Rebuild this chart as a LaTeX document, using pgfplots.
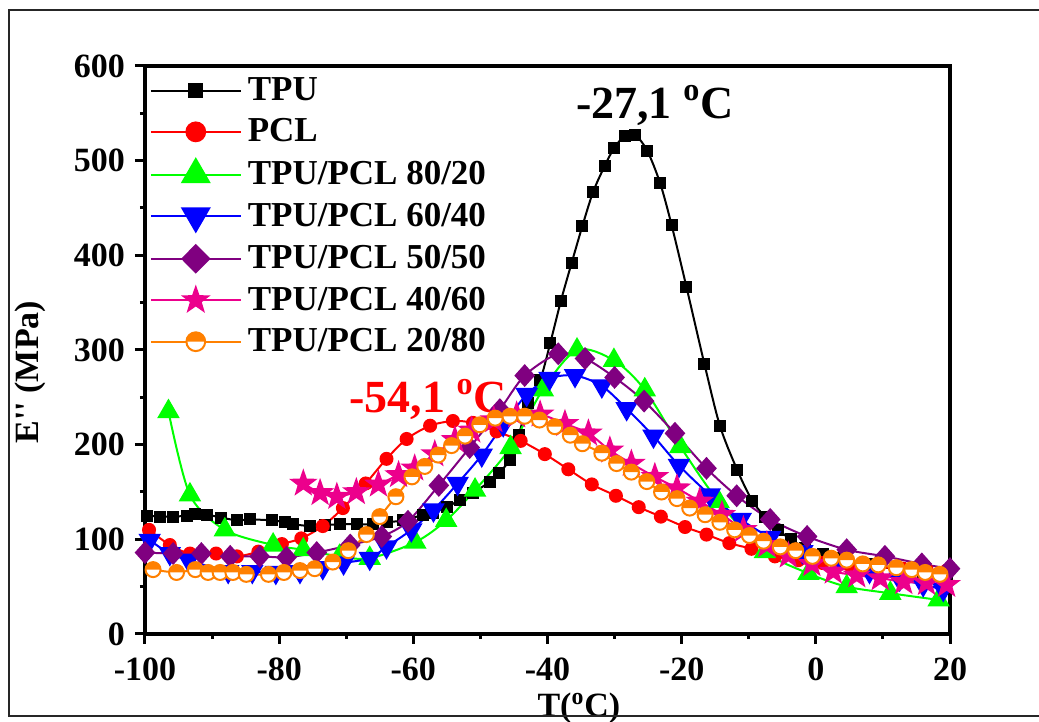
\documentclass[border=0pt]{standalone}
\usepackage{fontspec}
\setmainfont{Liberation Serif}
\newfontfamily\rawfont{Liberation Serif}[Ligatures=TeXOff]
\usepackage{pgfplots}
\pgfplotsset{compat=1.18}
\definecolor{myorange}{RGB}{255,128,0}
\definecolor{mygreen}{RGB}{0,255,0}
\definecolor{mypurple}{RGB}{128,0,128}
\pgfdeclareplotmark{halfo}{%
 \pgfpathcircle{\pgfpointorigin}{\pgfplotmarksize}%
 \pgfsetfillcolor{white}%
 \pgfusepathqfill
 \pgfpathmoveto{\pgfqpoint{\pgfplotmarksize}{0pt}}%
 \pgfpatharc{0}{180}{\pgfplotmarksize}%
 \pgfpathclose
 \pgfsetfillcolor{myorange}%
 \pgfusepathqfill
 \pgfpathcircle{\pgfpointorigin}{\pgfplotmarksize}%
 \pgfusepathqstroke
}
\pgfdeclareplotmark{fstar}{%
 \pgfpathmoveto{\pgfpointpolar{90}{\pgfplotmarksize}}%
 \pgfpathlineto{\pgfpointpolar{126}{0.4\pgfplotmarksize}}%
 \pgfpathlineto{\pgfpointpolar{162}{\pgfplotmarksize}}%
 \pgfpathlineto{\pgfpointpolar{198}{0.4\pgfplotmarksize}}%
 \pgfpathlineto{\pgfpointpolar{234}{\pgfplotmarksize}}%
 \pgfpathlineto{\pgfpointpolar{270}{0.4\pgfplotmarksize}}%
 \pgfpathlineto{\pgfpointpolar{306}{\pgfplotmarksize}}%
 \pgfpathlineto{\pgfpointpolar{342}{0.4\pgfplotmarksize}}%
 \pgfpathlineto{\pgfpointpolar{18}{\pgfplotmarksize}}%
 \pgfpathlineto{\pgfpointpolar{54}{0.4\pgfplotmarksize}}%
 \pgfpathclose
 \pgfusepathqfillstroke
}
\newcommand{\tf}{\fontsize{17}{20}\selectfont\bfseries}
\newcommand{\lf}{\fontsize{17.5}{20}\selectfont\bfseries}
\newcommand{\af}{\fontsize{23}{26}\selectfont\bfseries}
\begin{document}
\begin{tikzpicture}
\path[use as bounding box] (-72.5pt,-44pt) rectangle (447pt,317pt);
\begin{axis}[name=ax, at={(0,0)}, anchor=south west, scale only axis,
  width=402.5pt, height=284pt,
  xmin=-100, xmax=20, ymin=0, ymax=600,
  axis line style={line width=2pt},
  tick pos=left, tick align=outside,
  major tick length=5pt, minor tick length=2.5pt,
  tick style={line width=1.5pt, black},
  minor x tick num=1, minor y tick num=1,
  xtick={-100,-80,-60,-40,-20,0,20},
  xticklabels={-100,-80,-60,-40,-20,0,20},
  ytick={0,100,200,300,400,500,600},
  yticklabels={0,100,200,300,400,500,600},
  ticklabel style={font=\tf},
  xticklabel style={yshift=-3.5pt},
  yticklabel style={xshift=-1.5pt},
  xlabel={T(\textsuperscript{o}C)},
  ylabel={E{\rawfont\bfseries''} (MPa)},
  xlabel style={at={(axis description cs:0.539,-0.146)}, anchor=base, font=\tf},
  ylabel style={at={(axis description cs:-0.143,0.461)}, anchor=center, font=\tf},
  legend style={at={(rel axis cs:-0.002,0.989)}, anchor=north west, draw=none, fill=none,
    font=\lf, row sep=6.6pt, column sep=2.5pt, nodes={inner sep=0.5pt}},
  legend cell align=left,
  legend image code/.code={\draw[mark repeat=2,mark phase=2,#1] plot coordinates {(0pt,0pt) (22.5pt,0pt) (45pt,0pt)};},
  every axis plot/.append style={line width=1pt, smooth},
]
\addlegendimage{black, mark=square*, mark size=3.2pt}
\addlegendentry{TPU}
\addlegendimage{red, mark=*, mark size=4.7pt}
\addlegendentry{PCL}
\addlegendimage{mygreen, mark=triangle*, mark size=7.7pt}
\addlegendentry{TPU/PCL 80/20}
\addlegendimage{blue, mark=triangle*, mark size=7.7pt, mark options={rotate=180}}
\addlegendentry{TPU/PCL 60/40}
\addlegendimage{mypurple, mark=diamond*, mark size=6.7pt, mark options={xscale=1.33}}
\addlegendentry{TPU/PCL 50/50}
\addlegendimage{magenta, mark=fstar, mark size=6.3pt, mark options={fill=magenta}}
\addlegendentry{TPU/PCL 40/60}
\addlegendimage{myorange, mark=halfo, mark size=4.7pt}
\addlegendentry{TPU/PCL 20/80}

% TPU
\addplot[forget plot, black, mark=square*, mark size=2.5pt] coordinates {
(-99.7,125) (-97.8,124) (-95.8,124) (-93.8,125) (-92.5,127) (-90.8,126) (-88.6,123)
(-86.3,120) (-84.3,121) (-81.1,120) (-79.1,118) (-77.9,116) (-75.4,114) (-73.2,115)
(-70.9,116) (-68.4,116) (-66,116) (-64,118) (-61.5,120) (-58.5,126) (-57.1,128)
(-55,134) (-53,142) (-51.1,149) (-48.6,161) (-47.3,170) (-45.6,184) (-44.3,210)
(-42.9,244) (-41.1,268) (-39.6,307) (-38.0,352) (-36.4,392) (-34.8,431) (-33.2,467)
(-31.5,494) (-30.1,513) (-28.5,526) (-26.9,527) (-25.1,510) (-23.2,476) (-21.5,432)
(-19.3,367) (-16.6,285) (-14.3,220) (-11.7,173) (-9.5,141) (-7.6,124) (-5.6,110)
(-3.75,100) (-1.6,91) (1,85) (4,80) (8,74) (12,68) (16,64) (19.5,61)
};
% PCL
\addplot[forget plot, red, mark=*, mark size=3pt] coordinates {
(-99.4,110) (-96.3,94) (-93.3,85) (-89.4,85) (-86.3,82) (-83.1,87) (-79.6,95)
(-76.7,101) (-73.5,114) (-70.5,133) (-67.1,159) (-64,185) (-61,206) (-57.5,220)
(-54.1,225) (-51.1,223) (-47.6,214) (-44,204) (-40.4,190) (-36.9,174) (-33.4,158)
(-29.8,146) (-26.4,134) (-23.1,124) (-19.5,113) (-16.3,105) (-12.9,96) (-9.6,90)
(-6.1,82) (-2.6,78) (1,75) (5,73) (9,71) (13,69) (16.5,68) (19.5,67)
};
% 80/20
\addplot[forget plot, mygreen, mark=triangle*, mark size=5.5pt] coordinates {
(-96.5,235) (-93.3,147) (-88.1,110) (-80.9,94) (-76.4,89) (-71,82) (-66.5,80)
(-59.7,97) (-55.1,120) (-50.8,152) (-45.5,197) (-40.7,258) (-35.6,300) (-30.1,289)
(-25.5,258) (-20.2,198) (-14.5,140) (-7.6,87) (-1.1,64) (4.6,50) (11.1,43) (18.3,36)
};
% 60/40
\addplot[forget plot, blue, mark=triangle*, mark size=5.5pt, mark options={rotate=180}] coordinates {
(-99.3,99) (-96.3,85) (-93.5,78) (-87.6,66) (-84,66) (-80.5,65) (-76.9,66)
(-73.5,70) (-70.4,75) (-66.5,80) (-64,92) (-60.3,110) (-57,131) (-53.4,159)
(-49.8,189) (-46.6,221) (-43.1,253) (-39.7,270) (-35.9,273) (-31.9,262) (-28.2,238)
(-24.2,209) (-20.4,178) (-15.8,147) (-11.2,121) (-6.8,102) (-2,87) (3,75) (8,66)
(12.5,58) (16,52) (19,47)
};
% 50/50
\addplot[forget plot, mypurple, mark=diamond*, mark size=5pt, mark options={xscale=1.2}] coordinates {
(-100,86) (-95.8,85) (-91.6,85) (-87.3,82) (-82.9,82) (-78.9,81) (-74.4,86)
(-69.4,94) (-64.7,103) (-60.8,119) (-56.2,157) (-51.6,197) (-47.1,237) (-43.4,273)
(-38.4,296) (-34.4,291) (-30,271) (-25.6,246) (-21,212) (-16.3,175) (-11.8,146)
(-6.8,121) (-1.3,103) (4.6,89) (10.3,82) (15.8,74) (20,69)
};
% 40/60
\addplot[forget plot, magenta, mark=fstar, mark size=6pt, mark options={fill=magenta}] coordinates {
(-76.4,159) (-73.9,149) (-71.4,145) (-68.5,150) (-65.2,158) (-62.2,168) (-59.8,175)
(-56.8,190) (-53.8,205) (-51.3,215) (-48,226) (-44.6,231) (-41.1,232) (-37.4,222)
(-33.9,212) (-30.7,194) (-27.5,180) (-24,166) (-20.7,154) (-17.3,140) (-14,126)
(-10.8,110) (-7.3,94) (-4.1,83) (-0.6,74) (2.6,66) (6.1,62) (9.6,59) (13.1,55)
(16.5,54) (19.5,52)
};
% 20/80
\addplot[forget plot, myorange, mark=halfo, mark size=3.75pt] coordinates {
(-98.8,68) (-95.3,65) (-92.5,68) (-90.6,65) (-88.8,65) (-86.9,65) (-84.9,63)
(-81.6,63) (-79.3,65) (-76.9,67) (-74.7,69) (-72,76) (-69.7,88) (-67,105)
(-65,124) (-62.6,145) (-60.2,166) (-58.3,177) (-56.3,189) (-54.3,199) (-52.3,209)
(-50.1,221) (-47.8,228) (-45.6,230) (-43.4,230) (-41.2,226) (-38.9,219) (-36.6,210)
(-34.8,201) (-31.9,191) (-29.7,180) (-27.5,171) (-25.2,161) (-23,150) (-20.7,143)
(-18.8,133) (-16.5,126) (-14.3,118) (-12.1,110) (-9.9,104) (-7.8,98) (-5.3,92)
(-3,88) (-0.5,82) (2.3,80) (4.6,78) (7,74) (9.3,73) (12,70) (14.3,68) (16.3,65)
(18.5,63)
};
\node[anchor=base, inner sep=0pt, font=\af] at (axis cs:-24,545) {-27,1 \textsuperscript{o}C};
\node[anchor=base, inner sep=0pt, font=\af, red] at (axis cs:-57.8,233.5) {-54,1 \textsuperscript{o}C};
\end{axis}
\draw[line width=1pt, black!85] (-68pt,-41pt) rectangle (460pt,312pt);
\end{tikzpicture}
\end{document}
